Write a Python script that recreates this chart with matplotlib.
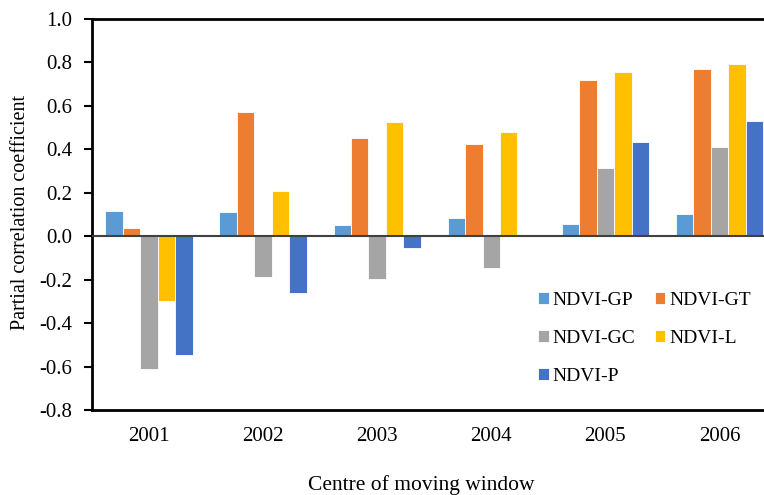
import matplotlib
matplotlib.use("Agg")
import matplotlib.pyplot as plt
import numpy as np

plt.rcParams['font.family'] = ['Liberation Serif', 'DejaVu Serif']

years = ['2001', '2002', '2003', '2004', '2005', '2006']
series_names = ['NDVI-GP', 'NDVI-GT', 'NDVI-GC', 'NDVI-L', 'NDVI-P']
ndvi_gp = [0.115, 0.11, 0.05, 0.086, 0.055, 0.101]
ndvi_gt = [0.04, 0.573, 0.453, 0.424, 0.719, 0.77]
ndvi_gc = [-0.61, -0.19, -0.198, -0.145, 0.313, 0.413]
ndvi_l = [-0.30, 0.21, 0.527, 0.481, 0.757, 0.791]
ndvi_p = [-0.545, -0.263, -0.052, 0.0, 0.433, 0.53]
y_ticks = [-0.8, -0.6, -0.4, -0.2, 0.0, 0.2, 0.4, 0.6, 0.8, 1.0]
y_ticklabels = ['-0.8', '-0.6', '-0.4', '-0.2', '0.0', '0.2', '0.4', '0.6', '0.8', '1.0']
colors = ['#5B9BD5', '#ED7D31', '#A5A5A5', '#FFC000', '#4472C4']

data = [ndvi_gp, ndvi_gt, ndvi_gc, ndvi_l, ndvi_p]

fig = plt.figure(figsize=(7.64, 4.95), dpi=100)
ax = fig.add_axes([92/764, 1-410/495, (776.5-92)/764, (410-19)/495])

x = np.arange(len(years))
w = 0.153
handles = []
for i, (vals, name, c) in enumerate(zip(data, series_names, colors)):
    h = ax.bar(x + (i-2)*w, vals, w, color=c, label=name, edgecolor='white', linewidth=0.6, zorder=2)
    handles.append(h)

ax.axhline(0, color='#404040', lw=1.5, zorder=3)
ax.set_xlim(-0.5, len(years)-0.5)
ax.set_ylim(-0.8, 1.0)
ax.set_yticks(y_ticks)
ax.set_yticklabels(y_ticklabels)
ax.set_xticks(x)
ax.set_xticklabels(years)
ax.tick_params(axis='x', length=0, pad=12, labelsize=15)
ax.tick_params(axis='y', length=6, width=1.5, pad=8, labelsize=15, direction='out')
for s in ['left', 'top', 'bottom']:
    ax.spines[s].set_linewidth(2)
    ax.spines[s].set_color('black')
ax.spines['right'].set_visible(False)

fig.text(21/764, 1-212/495, 'Partial correlation coefficient', rotation=90,
         ha='center', va='center', fontsize=14.5)
fig.text(421/764, 1-485/495, 'Centre of moving window', ha='center', va='center', fontsize=15.5)

order = [0, 2, 4, 1, 3]
fig.legend([handles[k] for k in order], [series_names[k] for k in order],
           loc='upper left', bbox_to_anchor=(538/764, 1-292/495), ncol=2, frameon=False,
           fontsize=14, handlelength=0.55, handleheight=0.55, handletextpad=0.2,
           columnspacing=1.0, labelspacing=1.08, borderpad=0, borderaxespad=0)

fig.savefig('out.png', dpi=100)
